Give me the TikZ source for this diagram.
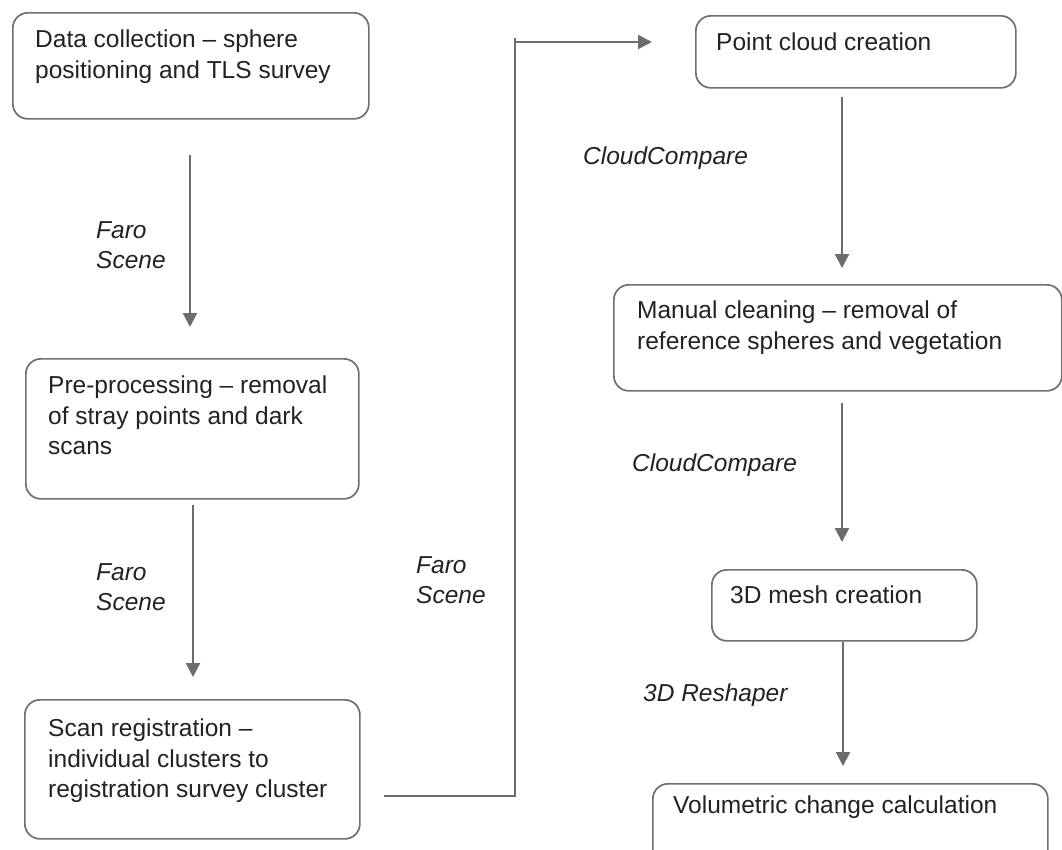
\documentclass[tikz,border=0pt]{standalone}
\usepackage{fontspec}
\setmainfont{Liberation Sans}
\usetikzlibrary{arrows.meta}
\definecolor{boxgray}{HTML}{707070}
\definecolor{arrgray}{HTML}{6B6C70}
\definecolor{txt}{HTML}{222222}
\tikzset{
  x=1pt, y=-1pt,
  flowbox/.style={draw=boxgray, line width=1.7pt, rounded corners=15pt, rectangle, inner sep=0pt, anchor=north west},
  boxtext/.style={anchor=north west, inner sep=0pt, align=left, text=txt, font=\fontsize{24.5}{30.5}\selectfont},
  tool/.style={anchor=north west, inner sep=0pt, align=left, text=txt, font=\fontsize{24.5}{30.5}\selectfont\itshape},
  arr/.style={draw=arrgray, line width=2.2pt, -{Triangle[width=14pt,length=14pt]}},
  conn/.style={draw=arrgray, line width=2.2pt},
}
\begin{document}
\begin{tikzpicture}
\useasboundingbox (0,0) rectangle (1062,849);
\clip (0,0) rectangle (1062,849);
% boxes
\node[flowbox, minimum width=356pt, minimum height=106pt] (b1) at (12,12) {};
\node[flowbox, minimum width=333pt, minimum height=140pt] (b2) at (25,358) {};
\node[flowbox, minimum width=335pt, minimum height=139pt] (b3) at (24,699) {};
\node[flowbox, minimum width=320pt, minimum height=72pt] (b4) at (695,15) {};
\node[flowbox, minimum width=448pt, minimum height=106pt] (b5) at (613,284) {};
\node[flowbox, minimum width=265pt, minimum height=71pt] (b6) at (711,569) {};
\node[flowbox, minimum width=395pt, minimum height=90pt] (b7) at (652,783) {};
% box texts
\node[boxtext] (t1) at (35,30) {Data collection -- sphere\\positioning and TLS survey};
\node[boxtext] (t2) at (48,376) {Pre-processing -- removal\\of stray points and dark\\scans};
\node[boxtext] (t3) at (48,719) {Scan registration --\\individual clusters to\\registration survey cluster};
\node[boxtext] (t4) at (716,33) {Point cloud creation};
\node[boxtext] (t5) at (637,301) {Manual cleaning -- removal of\\reference spheres and vegetation};
\node[boxtext] (t6) at (730,586) {3D mesh creation};
\node[boxtext] (t7) at (673,796) {Volumetric change calculation};
% tool labels
\node[tool] (l1) at (96,221) {Faro\\Scene};
\node[tool] (l2) at (96,563) {Faro\\Scene};
\node[tool] (l3) at (416,556) {Faro\\Scene};
\node[tool] (l4) at (583,147) {CloudCompare};
\node[tool] (l5) at (632,454) {CloudCompare};
\node[tool] (l6) at (643,684) {3D Reshaper};
% arrow end points
\coordinate (a1s) at (190,155);
\coordinate (a1e) at (190,327);
\coordinate (a2s) at (193,505);
\coordinate (a2e) at (193,677);
\coordinate (a4s) at (842,97);
\coordinate (a4e) at (842,268);
\coordinate (a5s) at (842,403);
\coordinate (a5e) at (842,542);
\coordinate (a6e) at (843,766);
\coordinate (c0) at (384,796);
\coordinate (c1) at (515,796);
\coordinate (c2) at (515,42);
\coordinate (c3) at (652,42);
% connectors
\draw[arr] (a1s) -- (a1e);
\draw[arr] (a2s) -- (a2e);
\draw[arr] (a4s) -- (a4e);
\draw[arr] (a5s) -- (a5e);
\draw[arr] (b6.south -| a6e) -- (a6e);
\draw[conn] (c0) -- (c1) -- ([yshift=4pt]c2);
\draw[arr] (c2) -- (c3);
\end{tikzpicture}
\end{document}
